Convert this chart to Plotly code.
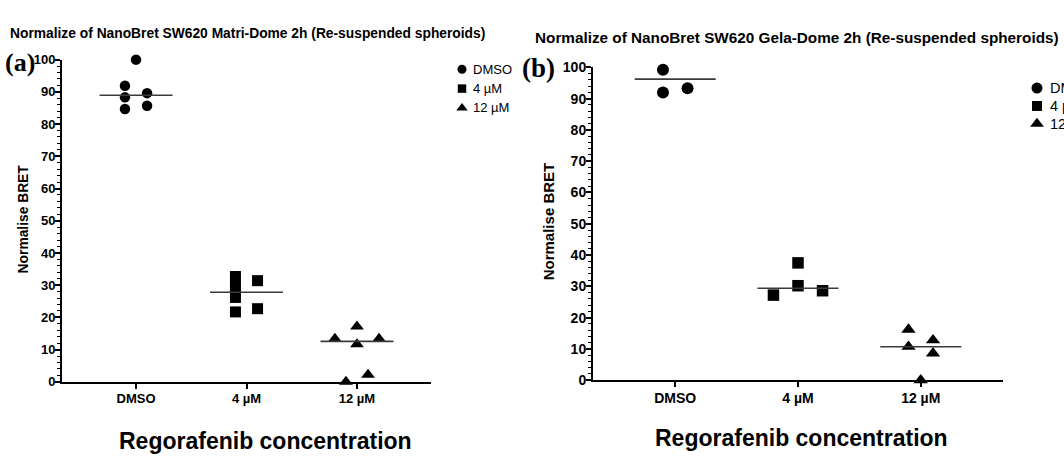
import numpy as np
import plotly.graph_objects as go

categories = ["DMSO", "4 µM", "12 µM"]
symbols = ["circle", "square", "triangle-up"]

# Panel (a) values: Matri-Dome
a_dmso = [100.0, 91.9, 88.3, 89.6, 84.7, 85.7]
a_4um = [32.7, 29.4, 26.2, 21.7, 31.4, 22.7]
a_12um = [13.4, 17.2, 11.7, 13.4, 0.0, 2.2]

# Panel (b) values: Gela-Dome
b_dmso = [99.2, 100.3, 92.0, 93.3]
b_4um = [27.2, 37.5, 30.2, 28.6]
b_12um = [16.2, 10.7, 0.0, 12.8, 8.6]

# horizontal scatter offsets (within category)
a_dmso_jit = [0.0, -0.1, -0.1, 0.1, -0.1, 0.1]
a_4um_jit = [-0.1, -0.1, -0.1, -0.1, 0.1, 0.1]
a_12um_jit = [-0.2, 0.0, 0.0, 0.2, -0.1, 0.1]
b_dmso_jit = [-0.1, 0.1, -0.1, 0.1]
b_4um_jit = [-0.2, 0.0, 0.0, 0.2]
b_12um_jit = [-0.1, -0.1, 0.0, 0.1, 0.1]

W, H = 1064, 460
FONT = "Liberation Sans, Arial, sans-serif"
SERIF = "Liberation Serif, Times New Roman, serif"

fig = go.Figure()

def px_x(p):
    return p / W

def px_y(p):
    return 1 - p / H

panels = [
    dict(xa="x", ya="y", vals=[a_dmso, a_4um, a_12um], jit=[a_dmso_jit, a_4um_jit, a_12um_jit],
         msize=[10.5, 11, 12]),
    dict(xa="x2", ya="y2", vals=[b_dmso, b_4um, b_12um], jit=[b_dmso_jit, b_4um_jit, b_12um_jit],
         msize=[12, 11.5, 12.5]),
]

for p in panels:
    for i, (v, j) in enumerate(zip(p["vals"], p["jit"])):
        xs = [i + d for d in j]
        fig.add_trace(go.Scatter(
            x=xs, y=v, mode="markers", xaxis=p["xa"], yaxis=p["ya"],
            marker=dict(symbol=symbols[i], color="black", size=p["msize"][i], line=dict(width=0)),
            cliponaxis=False, showlegend=False, hoverinfo="y"))
        med = float(np.median(v))
        fig.add_trace(go.Scatter(
            x=[i - 0.33, i + 0.33], y=[med, med], mode="lines", xaxis=p["xa"], yaxis=p["ya"],
            line=dict(color="#3a3a3a", width=1.6), showlegend=False, hoverinfo="skip"))

# custom legends on a pixel-space overlay axis
legend_specs = [
    dict(x=462, y0=63.5, dy=20, sizes=[9, 8.5, 10], font=13, tx=471),
    dict(x=1037, y0=83, dy=18.5, sizes=[11, 10, 12], font=14.5, tx=1048),
]
for spec in legend_specs:
    for k, lab in enumerate(categories):
        yy = spec["y0"] + k * spec["dy"]
        fig.add_trace(go.Scatter(
            x=[spec["x"]], y=[yy], mode="markers", xaxis="x3", yaxis="y3",
            marker=dict(symbol=symbols[k], color="black", size=spec["sizes"][k]),
            cliponaxis=False, showlegend=False, hoverinfo="skip"))
        fig.add_annotation(x=spec["tx"], y=yy, xref="x3", yref="y3", text=lab,
                           showarrow=False, xanchor="left", yanchor="middle",
                           font=dict(family=FONT, size=spec["font"], color="black"))

common_y = dict(range=[0, 100], dtick=10, showline=True, linecolor="black", linewidth=2,
                ticks="outside", ticklen=5, tickwidth=1.5, tickcolor="black", ticklabelstandoff=-3,
                minor=dict(dtick=2, ticks="outside", ticklen=3, tickwidth=1, tickcolor="black"),
                showgrid=False, zeroline=False, fixedrange=True)
common_x = dict(range=[-0.67, 2.67], tickmode="array", tickvals=[0, 1, 2], ticktext=categories,
                showline=True, linecolor="black", linewidth=2, ticks="outside", ticklen=5,
                tickwidth=1.5, tickcolor="black", ticklabelstandoff=-1,
                showgrid=False, zeroline=False, fixedrange=True)

fig.update_layout(
    width=W, height=H, margin=dict(l=0, r=0, t=0, b=0),
    paper_bgcolor="white", plot_bgcolor="rgba(0,0,0,0)",
    font=dict(family=FONT, color="black"),
    xaxis=dict(domain=[px_x(62), px_x(431)], anchor="y",
               tickfont=dict(family=FONT, size=13, color="black", weight="bold"), **common_x),
    yaxis=dict(domain=[px_y(387.3), px_y(53.5)], anchor="x",
               tickfont=dict(family=FONT, size=13, color="black", weight="bold"), **common_y),
    xaxis2=dict(domain=[px_x(593), px_x(1003)], anchor="y2",
                tickfont=dict(family=FONT, size=14, color="black", weight="bold"), **common_x),
    yaxis2=dict(domain=[px_y(385.6), px_y(61.5)], anchor="x2",
                tickfont=dict(family=FONT, size=14, color="black", weight="bold"), **common_y),
    xaxis3=dict(domain=[0, 1], range=[0, W], visible=False, fixedrange=True, anchor="y3"),
    yaxis3=dict(domain=[0, 1], range=[H, 0], visible=False, fixedrange=True, anchor="x3"),
)

ann = [
    dict(text="<b>Normalize of NanoBret SW620 Matri-Dome 2h (Re-suspended spheroids)</b>",
         x=8, y=26, size=13.8),
    dict(text="<b>Normalize of NanoBret SW620 Gela-Dome 2h (Re-suspended spheroids)</b>",
         x=533, y=31, size=15.3),
]
for a in ann:
    fig.add_annotation(x=a["x"], y=a["y"], xref="x3", yref="y3", text=a["text"], showarrow=False,
                       xanchor="left", yanchor="middle", font=dict(family=FONT, size=a["size"], color="black"))

# y axis titles
fig.add_annotation(x=23, y=219, xref="x3", yref="y3", text="<b>Normalise BRET</b>", textangle=-90,
                   showarrow=False, font=dict(family=FONT, size=13.8, color="black"))
fig.add_annotation(x=548, y=221, xref="x3", yref="y3", text="<b>Normalise BRET</b>", textangle=-90,
                   showarrow=False, font=dict(family=FONT, size=15, color="black"))
# x axis titles
fig.add_annotation(x=265, y=449, xref="x3", yref="y3", text="<b>Regorafenib concentration</b>",
                   showarrow=False, font=dict(family=FONT, size=23, color="black"))
fig.add_annotation(x=801, y=446, xref="x3", yref="y3", text="<b>Regorafenib concentration</b>",
                   showarrow=False, font=dict(family=FONT, size=23, color="black"))
# panel letters
fig.add_annotation(x=20, y=56, xref="x3", yref="y3", text="<b>(a)</b>", showarrow=False,
                   font=dict(family=SERIF, size=26, color="black"))
fig.add_annotation(x=538, y=62, xref="x3", yref="y3", text="<b>(b)</b>", showarrow=False,
                   font=dict(family=SERIF, size=27, color="black"))

fig.write_html("out.html", config={"displayModeBar": False},
               post_script="document.body.style.margin='0';")
